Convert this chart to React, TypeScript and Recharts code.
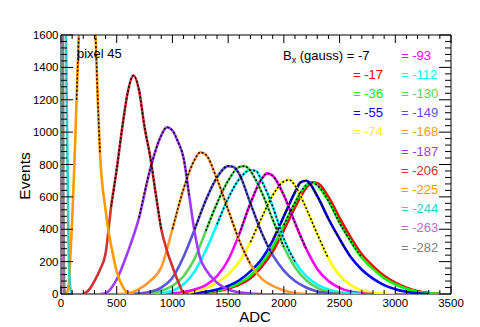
import React from "react";
import { LineChart, Line, XAxis, YAxis, ReferenceArea } from "recharts";

// plot frame in pixels (used only for tick marks and texts)
const PLOT = { left: 61, right: 451, top: 35, bottom: 294 };
const FONT = "'Liberation Sans', Arial, Helvetica, sans-serif";

const xLabels = [0, 500, 1000, 1500, 2000, 2500, 3000, 3500];
const yLabels = [0, 200, 400, 600, 800, 1000, 1200, 1400, 1600];
const xTicks = Array.from({ length: 36 }, (_, i) => i * 100);
const yTicks = Array.from({ length: 41 }, (_, i) => i * 40);

type Pt = [number, number];

// [ADC, events]
const bx7: Pt[] = [[1100, 0], [1200, 5], [1300, 10], [1400, 20], [1500, 37], [1600, 63], [1700, 105], [1800, 178], [1900, 275], [2000, 410], [2100, 550], [2200, 665], [2250, 690], [2300, 680], [2400, 585], [2500, 455], [2600, 340], [2700, 235], [2800, 165], [2900, 106], [3000, 66], [3100, 36], [3200, 15], [3300, 5], [3400, 0]];
const bx17: Pt[] = [[1100, 0], [1200, 5], [1300, 9], [1400, 18], [1500, 34], [1600, 58], [1700, 98], [1800, 168], [1900, 262], [2000, 395], [2100, 535], [2200, 655], [2250, 688], [2300, 685], [2400, 600], [2500, 470], [2600, 350], [2700, 245], [2800, 172], [2900, 112], [3000, 70], [3100, 39], [3200, 17], [3300, 5], [3400, 0]];
const bx36: Pt[] = [[1100, 0], [1200, 6], [1300, 12], [1400, 22], [1500, 40], [1600, 68], [1700, 112], [1800, 188], [1900, 290], [2000, 425], [2100, 565], [2200, 672], [2250, 690], [2300, 672], [2400, 575], [2500, 440], [2600, 325], [2700, 225], [2800, 155], [2900, 98], [3000, 60], [3100, 32], [3200, 13], [3300, 4], [3400, 0]];
const bx55: Pt[] = [[1100, 0], [1200, 6], [1300, 14], [1400, 28], [1500, 50], [1600, 85], [1700, 140], [1800, 215], [1900, 330], [2000, 480], [2100, 630], [2150, 690], [2200, 700], [2300, 605], [2400, 465], [2500, 340], [2600, 228], [2700, 150], [2800, 95], [2900, 55], [3000, 30], [3100, 14], [3200, 5], [3300, 0]];
const bx74: Pt[] = [[1000, 0], [1100, 5], [1200, 15], [1300, 35], [1400, 70], [1500, 120], [1600, 200], [1700, 320], [1800, 470], [1900, 610], [2000, 695], [2050, 705], [2100, 670], [2200, 530], [2300, 370], [2400, 220], [2500, 115], [2600, 55], [2700, 22], [2800, 8], [2900, 2], [3000, 0]];
const bx93: Pt[] = [[900, 0], [1000, 4], [1100, 12], [1200, 28], [1300, 55], [1400, 110], [1500, 210], [1600, 370], [1700, 560], [1800, 710], [1850, 745], [1900, 730], [2000, 610], [2100, 440], [2200, 280], [2300, 155], [2400, 80], [2500, 38], [2600, 15], [2700, 5], [2800, 0]];
const bx112: Pt[] = [[800, 0], [900, 5], [1000, 20], [1100, 60], [1200, 140], [1300, 270], [1400, 430], [1500, 590], [1600, 710], [1700, 765], [1750, 760], [1800, 700], [1900, 540], [2000, 340], [2100, 200], [2200, 110], [2300, 58], [2400, 28], [2500, 11], [2600, 4], [2700, 0]];
const bx130: Pt[] = [[700, 0], [800, 5], [900, 20], [1000, 50], [1100, 110], [1200, 220], [1300, 390], [1400, 560], [1500, 700], [1600, 785], [1650, 790], [1700, 760], [1800, 630], [1900, 460], [2000, 290], [2100, 165], [2200, 85], [2300, 38], [2400, 13], [2500, 3], [2600, 0]];
const bx149: Pt[] = [[600, 0], [700, 4], [800, 14], [900, 40], [1000, 100], [1100, 230], [1200, 400], [1300, 580], [1400, 720], [1500, 790], [1550, 785], [1600, 740], [1700, 560], [1800, 380], [1900, 240], [2000, 145], [2100, 80], [2200, 40], [2300, 16], [2400, 5], [2500, 0]];
const bx168: Pt[] = [[500, 0], [600, 5], [700, 30], [800, 80], [900, 165], [1000, 400], [1100, 650], [1200, 830], [1250, 875], [1300, 860], [1400, 710], [1500, 520], [1600, 330], [1700, 185], [1800, 95], [1900, 50], [2000, 22], [2100, 6], [2200, 0]];
const bx187: Pt[] = [[350, 0], [400, 5], [500, 90], [600, 260], [700, 470], [800, 770], [900, 980], [950, 1030], [1000, 1010], [1050, 940], [1100, 840], [1150, 610], [1200, 380], [1250, 220], [1300, 150], [1400, 70], [1500, 28], [1600, 10], [1700, 3], [1800, 0]];
const bx206: Pt[] = [[200, 0], [250, 25], [300, 80], [350, 150], [400, 250], [450, 540], [500, 770], [550, 1030], [600, 1250], [650, 1350], [700, 1260], [750, 1030], [800, 850], [850, 620], [900, 400], [950, 270], [1000, 170], [1050, 80], [1100, 8], [1150, 0]];
const bx225: Pt[] = [[50, 0], [70, 60], [80, 180], [100, 450], [120, 800], [140, 1200], [160, 1600], [200, 2100], [240, 2250], [280, 2050], [310, 1600], [330, 1200], [350, 870], [400, 520], [425, 394], [450, 300], [500, 140], [550, 50], [600, 8], [650, 0]];
const bx244: Pt[] = [[0, 3000], [20, 2700], [40, 1900], [45, 1600], [55, 1000], [62, 600], [68, 300], [75, 120], [85, 30], [95, 5], [105, 0]];
const bx263: Pt[] = [[0, 5000], [10, 2000], [18, 200], [25, 0]];
const bx282: Pt[] = [[0, 5000], [12, 3000], [22, 500], [28, 50], [35, 0]];

const series = [
  { label: "-7", color: "#000000", pts: bx7, fit: null },
  { label: "-17", color: "#ff0000", pts: bx17, fit: null },
  { label: "-36", color: "#00ff00", pts: bx36, fit: [1950, 2700] },
  { label: "-55", color: "#0000ff", pts: bx55, fit: [1850, 2600] },
  { label: "-74", color: "#ffff00", pts: bx74, fit: [1700, 2450] },
  { label: "-93", color: "#ff00ff", pts: bx93, fit: [1550, 2250] },
  { label: "-112", color: "#00ffff", pts: bx112, fit: [1400, 2100] },
  { label: "-130", color: "#59d454", pts: bx130, fit: [1300, 2000] },
  { label: "-149", color: "#5954d9", pts: bx149, fit: [1150, 1900] },
  { label: "-168", color: "#ff9933", pts: bx168, fit: [1000, 1700] },
  { label: "-187", color: "#9d3cff", pts: bx187, fit: [700, 1150] },
  { label: "-206", color: "#cc3333", pts: bx206, fit: [450, 900] },
  { label: "-225", color: "#ff9900", pts: bx225, fit: [140, 350] },
  { label: "-244", color: "#33cccc", pts: bx244, fit: null },
  { label: "-263", color: "#cc66cc", pts: bx263, fit: null },
  { label: "-282", color: "#808080", pts: bx282, fit: null },
];

const rows = (pts: Pt[]) => pts.map(([adc, events]) => ({ adc, events }));

const renderXTick = (props: any) => {
  const { x, payload } = props;
  const v = payload.value;
  const major = xLabels.includes(v);
  const len = major ? 8 : 4;
  return (
    <g>
      <line x1={x} x2={x} y1={PLOT.bottom} y2={PLOT.bottom - len} stroke="#000" />
      <line x1={x} x2={x} y1={PLOT.top} y2={PLOT.top + len} stroke="#000" />
      {major && (
        <text x={x} y={307} textAnchor="middle" fontSize={11.5} fontFamily={FONT} fill="#000">
          {v}
        </text>
      )}
    </g>
  );
};

const renderYTick = (props: any) => {
  const { y, payload } = props;
  const v = payload.value;
  const major = yLabels.includes(v);
  const len = major ? 12 : 6;
  return (
    <g>
      <line x1={PLOT.left} x2={PLOT.left + len} y1={y} y2={y} stroke="#000" />
      <line x1={PLOT.right} x2={PLOT.right - len} y1={y} y2={y} stroke="#000" />
      {major && (
        <text x={58.5} y={y + 4} textAnchor="end" fontSize={11.5} fontFamily={FONT} fill="#000">
          {v}
        </text>
      )}
    </g>
  );
};

const leftCol = ["-17", "-36", "-55", "-74"];
const rightCol = ["-93", "-112", "-130", "-149", "-168", "-187", "-206", "-225", "-244", "-263", "-282"];
const colorOf = (label: string) => series.find((s) => s.label === label)?.color ?? "#000";

export default function App() {
  return (
    <div style={{ position: "absolute", left: 0, top: 0, width: 480, height: 327, background: "#fff" }}>
      <LineChart width={480} height={327} margin={{ top: 35, right: 29, bottom: 0, left: 0 }}>
        <XAxis
          type="number"
          dataKey="adc"
          domain={[0, 3500]}
          ticks={xTicks}
          interval={0}
          allowDataOverflow
          axisLine={false}
          tickLine={false}
          tick={renderXTick}
          height={33}
        />
        <YAxis
          type="number"
          domain={[0, 1600]}
          ticks={yTicks}
          interval={0}
          allowDataOverflow
          axisLine={false}
          tickLine={false}
          tick={renderYTick}
          width={61}
        />
        {series.map((s) => (
          <Line
            key={"h" + s.label}
            data={rows(s.pts)}
            dataKey="events"
            type="monotone"
            stroke={s.color}
            strokeWidth={2.6}
            dot={false}
            activeDot={false}
            isAnimationActive={false}
          />
        ))}
        {series
          .filter((s) => s.fit)
          .map((s) => (
            <Line
              key={"f" + s.label}
              data={rows(s.pts.filter(([a]) => a >= s.fit![0] && a <= s.fit![1]))}
              dataKey="events"
              type="monotone"
              stroke="#000"
              strokeWidth={1.5}
              strokeDasharray="2 2"
              dot={false}
              activeDot={false}
              isAnimationActive={false}
            />
          ))}
        <ReferenceArea x1={0} x2={3500} y1={0} y2={1600} fill="none" fillOpacity={0} stroke="#000" strokeWidth={1} ifOverflow="visible" />
      </LineChart>
      <svg width={480} height={327} style={{ position: "absolute", left: 0, top: 0, pointerEvents: "none" }} fontFamily={FONT}>
        <text x={77} y={57.5} fontSize={13} fill="#000">pixel 45</text>
        <text x={283} y={59.5} fontSize={13} fill="#000">
          B<tspan fontSize={9} dy={3}>x</tspan>
          <tspan dy={-3}> (gauss) = -7</tspan>
        </text>
        {leftCol.map((l, i) => (
          <text key={l} x={353} y={78.7 + i * 19.2} fontSize={13} fill={colorOf(l)}>
            = {l}
          </text>
        ))}
        {rightCol.map((l, i) => (
          <text key={l} x={401} y={59.5 + i * 19.2} fontSize={13} fill={colorOf(l)}>
            = {l}
          </text>
        ))}
        <text x={255} y={322} fontSize={15} textAnchor="middle" fill="#000">ADC</text>
        <text x={30} y={176} fontSize={15.5} textAnchor="middle" fill="#000" transform="rotate(-90 30 176)">
          Events
        </text>
      </svg>
    </div>
  );
}
